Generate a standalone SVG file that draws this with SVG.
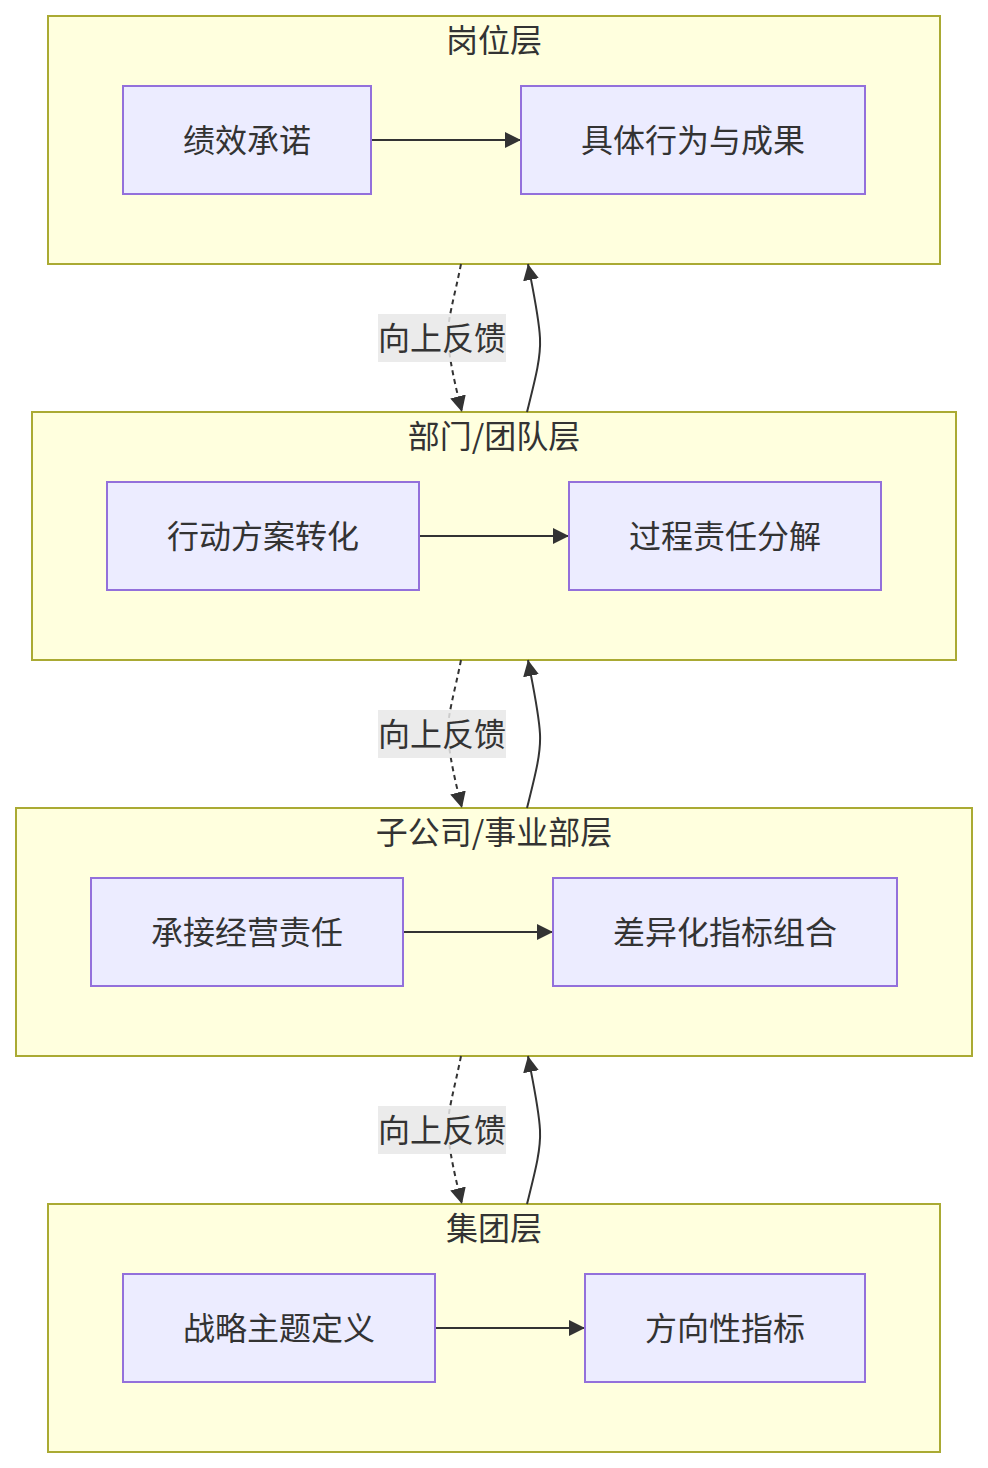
<svg xmlns="http://www.w3.org/2000/svg" width="988" height="1468" viewBox="0 0 988 1468">
<style>
.cluster rect{fill:#ffffde;stroke:#aaaa33;stroke-width:2}
.node rect{fill:#ececff;stroke:#9370db;stroke-width:2}
text{font-family:"Noto Sans CJK SC","Noto Sans",sans-serif;font-size:32px;fill:#333;text-anchor:middle;dominant-baseline:central}
.edge{fill:none;stroke:#333;stroke-width:2}
.dash{stroke-dasharray:5 4}
.lbl{fill:#e8e8e8;opacity:0.85}
</style>
<defs>
<marker id="arr" viewBox="0 0 10 10" refX="10" refY="5" markerWidth="16" markerHeight="16" markerUnits="userSpaceOnUse" orient="auto">
<path d="M0,0 L10,5 L0,10 z" fill="#333"/>
</marker>
</defs>
<rect width="988" height="1468" fill="#ffffff"/>
<g id="layer-gangwei" class="cluster"><rect x="48" y="16" width="892" height="248"/><text x="494" y="38">岗位层</text></g>
<g id="layer-bumen" class="cluster"><rect x="32" y="412" width="924" height="248"/><text x="494" y="434">部门/团队层</text></g>
<g id="layer-zigongsi" class="cluster"><rect x="16" y="808" width="956" height="248"/><text x="494" y="830">子公司/事业部层</text></g>
<g id="layer-jituan" class="cluster"><rect x="48" y="1204" width="892" height="248"/><text x="494" y="1226">集团层</text></g>

<g id="edges">
<path class="edge" d="M371,140 L521,140" marker-end="url(#arr)"/>
<path class="edge" d="M419,536 L569,536" marker-end="url(#arr)"/>
<path class="edge" d="M403,932 L553,932" marker-end="url(#arr)"/>
<path class="edge" d="M435,1328 L585,1328" marker-end="url(#arr)"/>

<path class="edge dash" d="M461,264 C455,295 447,320 448,338 C449,358 455,385 462,412" marker-end="url(#arr)"/>
<path class="edge" d="M527,412 C535,380 541,358 540,338 C539,318 534,295 528,264" marker-end="url(#arr)"/>
<path class="edge dash" d="M461,660 C455,691 447,716 448,734 C449,754 455,781 462,808" marker-end="url(#arr)"/>
<path class="edge" d="M527,808 C535,776 541,754 540,734 C539,714 534,691 528,660" marker-end="url(#arr)"/>
<path class="edge dash" d="M461,1056 C455,1087 447,1112 448,1130 C449,1150 455,1177 462,1204" marker-end="url(#arr)"/>
<path class="edge" d="M527,1204 C535,1172 541,1150 540,1130 C539,1110 534,1087 528,1056" marker-end="url(#arr)"/>

<g id="label1"><rect class="lbl" x="378" y="314" width="128" height="48"/><text x="442" y="336">向上反馈</text></g>
<g id="label2"><rect class="lbl" x="378" y="710" width="128" height="48"/><text x="442" y="732">向上反馈</text></g>
<g id="label3"><rect class="lbl" x="378" y="1106" width="128" height="48"/><text x="442" y="1128">向上反馈</text></g>
</g>

<g id="n-jixiao" class="node"><rect x="123" y="86" width="248" height="108"/><text x="247" y="138">绩效承诺</text></g>
<g id="n-juti" class="node"><rect x="521" y="86" width="344" height="108"/><text x="693" y="138">具体行为与成果</text></g>
<g id="n-xingdong" class="node"><rect x="107" y="482" width="312" height="108"/><text x="263" y="534">行动方案转化</text></g>
<g id="n-guocheng" class="node"><rect x="569" y="482" width="312" height="108"/><text x="725" y="534">过程责任分解</text></g>
<g id="n-chengjie" class="node"><rect x="91" y="878" width="312" height="108"/><text x="247" y="930">承接经营责任</text></g>
<g id="n-chayi" class="node"><rect x="553" y="878" width="344" height="108"/><text x="725" y="930">差异化指标组合</text></g>
<g id="n-zhanlue" class="node"><rect x="123" y="1274" width="312" height="108"/><text x="279" y="1326">战略主题定义</text></g>
<g id="n-fangxiang" class="node"><rect x="585" y="1274" width="280" height="108"/><text x="725" y="1326">方向性指标</text></g>
</svg>
